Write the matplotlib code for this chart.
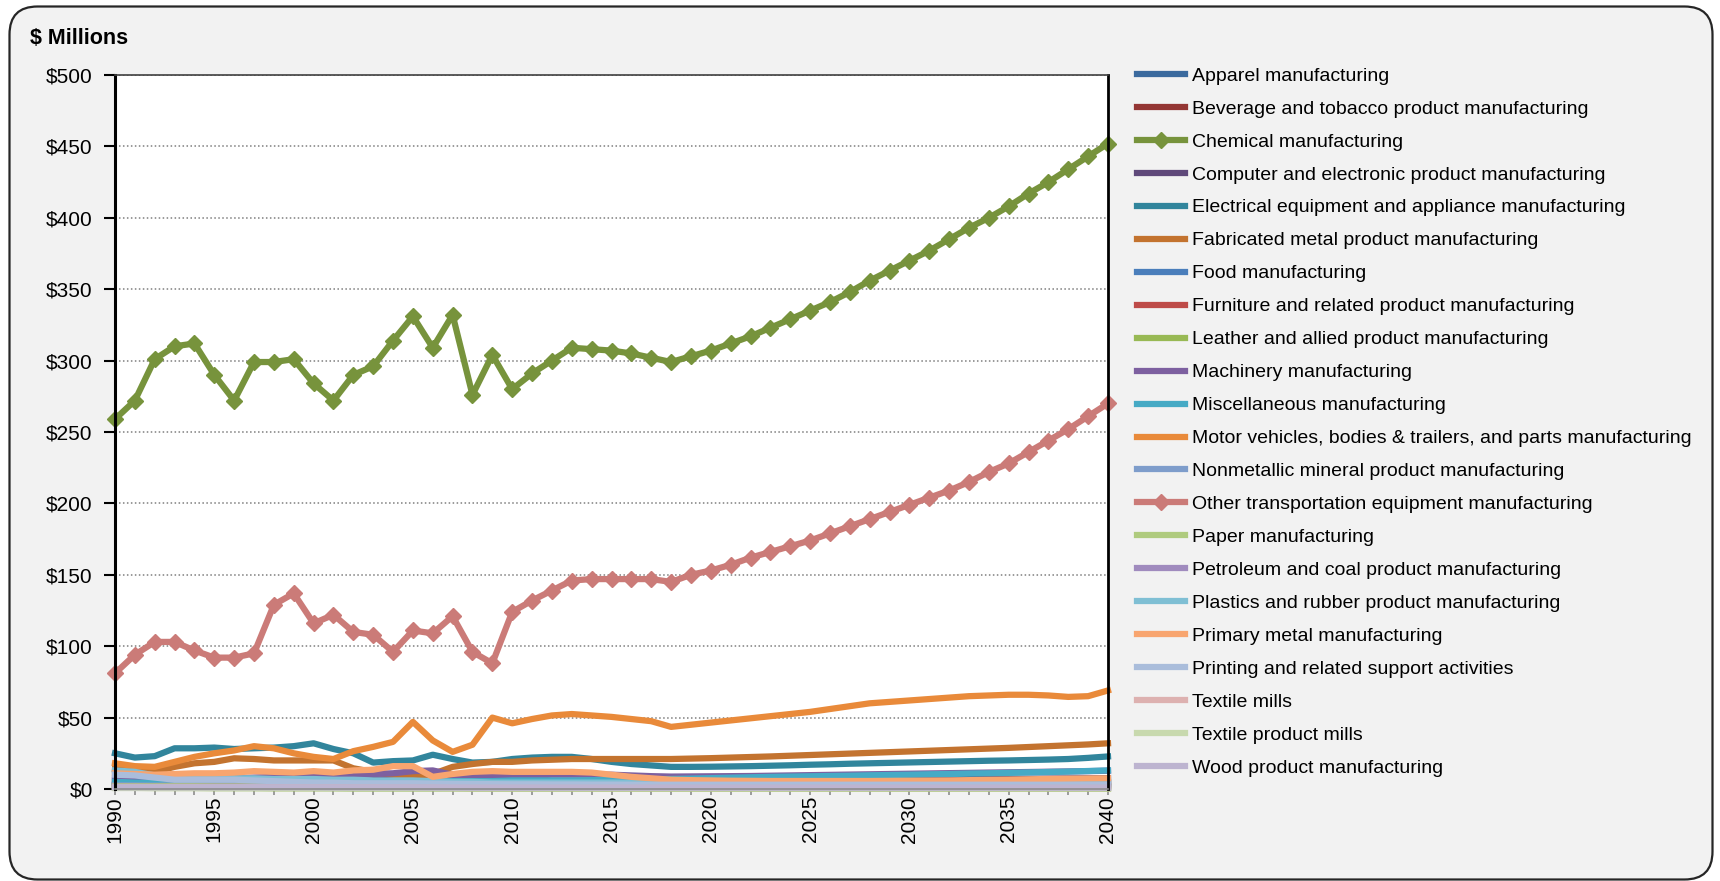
import matplotlib
matplotlib.use('Agg')
import matplotlib.pyplot as plt
from matplotlib import font_manager
from matplotlib.patches import FancyBboxPatch
from matplotlib.transforms import IdentityTransform
from matplotlib.ticker import MultipleLocator, FuncFormatter

# years on the x axis
years = list(range(1990, 2041))

# series values, $ millions, 1990..2040 (rows of ten years)
apparel = [3.0, 2.9, 2.8, 2.7, 2.6, 2.5, 2.4, 2.2, 2.0, 1.9,
           1.8, 1.6, 1.5, 1.4, 1.3, 1.2, 1.2, 1.1, 1.1, 1.0,
           1.0, 1.0, 1.0, 1.0, 1.0, 1.0, 1.0, 1.0, 1.0, 1.0,
           1.0, 1.0, 1.0, 1.0, 1.0, 1.0, 1.0, 1.0, 1.0, 1.0,
           1.0, 1.0, 1.0, 1.0, 1.0, 1.0, 1.0, 1.0, 1.0, 1.0,
           1.0]
beverage = [3.5, 3.4, 3.4, 3.5, 3.6, 3.6, 3.7, 3.7, 3.8, 3.8,
            3.9, 3.8, 3.8, 3.7, 3.7, 3.6, 3.6, 3.5, 3.4, 3.3,
            3.4, 3.4, 3.5, 3.5, 3.5, 3.5, 3.5, 3.5, 3.5, 3.5,
            3.6, 3.6, 3.7, 3.7, 3.8, 3.8, 3.9, 3.9, 4.0, 4.0,
            4.1, 4.1, 4.2, 4.2, 4.3, 4.3, 4.4, 4.4, 4.5, 4.5,
            4.6]
chemical = [259, 272, 301, 310, 312, 290, 272, 299, 299, 301,
            284, 272, 290, 296, 314, 331, 309, 332, 276, 304,
            280, 291, 300, 309, 308, 307, 305, 302, 299, 303,
            307, 312, 317, 323, 329, 335, 341, 348, 356, 363,
            370, 377, 385, 393, 400, 408, 417, 425, 434, 443,
            452]
computer = [6.0, 6.0, 6.0, 6.5, 6.5, 7.0, 7.0, 7.5, 7.5, 8.0,
            8.5, 7.0, 6.5, 6.5, 7.0, 7.0, 7.0, 6.5, 6.0, 5.5,
            5.5, 5.5, 5.5, 5.5, 5.5, 5.5, 5.5, 5.5, 5.5, 5.5,
            5.6, 5.7, 5.8, 5.9, 6.0, 6.1, 6.2, 6.3, 6.4, 6.5,
            6.6, 6.7, 6.8, 6.9, 7.0, 7.1, 7.2, 7.3, 7.4, 7.5,
            7.6]
electrical = [25, 22, 23, 28.5, 28.5, 29, 28, 28.5, 29, 30,
              32, 28, 25, 18.5, 19.5, 20, 24, 21, 18.5, 19,
              21, 22, 22.5, 22.5, 21, 19, 17.5, 16.5, 15.5, 15.5,
              15.6, 15.8, 16, 16.3, 16.6, 17, 17.3, 17.7, 18, 18.3,
              18.6, 18.9, 19.2, 19.5, 19.8, 20, 20.3, 20.6, 21, 21.8,
              22.8]
fabricated = [14, 13, 12, 15.5, 18, 19, 21.5, 21, 20, 20,
              20, 20, 14.5, 12, 10, 8.5, 10.5, 15.5, 17.5, 19,
              19, 20, 20.5, 21, 21, 21, 21, 21, 21, 21.3,
              21.6, 22, 22.4, 22.8, 23.3, 23.8, 24.3, 24.8, 25.3, 25.8,
              26.3, 26.8, 27.3, 27.8, 28.3, 28.8, 29.4, 30, 30.6, 31.2,
              32]
food = [3.0, 3.0, 3.1, 3.1, 3.2, 3.2, 3.3, 3.3, 3.3, 3.4,
        3.4, 3.3, 3.3, 3.2, 3.2, 3.1, 3.1, 3.0, 3.0, 3.0,
        3.0, 3.0, 3.0, 3.0, 3.0, 3.0, 3.0, 3.0, 3.0, 3.0,
        3.0, 3.0, 3.1, 3.1, 3.1, 3.2, 3.2, 3.2, 3.3, 3.3,
        3.3, 3.4, 3.4, 3.4, 3.5, 3.5, 3.5, 3.6, 3.6, 3.6,
        3.7]
furniture = [2.2, 2.2, 2.1, 2.2, 2.3, 2.3, 2.4, 2.4, 2.5, 2.5,
             2.5, 2.3, 2.2, 2.2, 2.2, 2.1, 2.1, 2.0, 1.9, 1.8,
             1.8, 1.8, 1.8, 1.8, 1.8, 1.8, 1.8, 1.8, 1.8, 1.8,
             1.9, 1.9, 1.9, 1.9, 2.0, 2.0, 2.0, 2.0, 2.1, 2.1,
             2.1, 2.1, 2.2, 2.2, 2.2, 2.2, 2.3, 2.3, 2.3, 2.3,
             2.4]
leather = [0.8, 0.8, 0.7, 0.7, 0.7, 0.6, 0.6, 0.6, 0.5, 0.5,
           0.5, 0.5, 0.4, 0.4, 0.4, 0.4, 0.4, 0.4, 0.3, 0.3,
           0.3, 0.3, 0.3, 0.3, 0.3, 0.3, 0.3, 0.3, 0.3, 0.3,
           0.3, 0.3, 0.3, 0.3, 0.3, 0.3, 0.3, 0.3, 0.3, 0.3,
           0.3, 0.3, 0.3, 0.3, 0.3, 0.3, 0.3, 0.3, 0.3, 0.3,
           0.3]
machinery = [8, 7.5, 7, 7, 7.5, 7.5, 7.5, 8, 8.5, 8.5,
             9, 8, 9, 10.5, 11, 12.5, 13, 10, 8.5, 9,
             9.5, 9.5, 10, 10, 10, 10, 9.5, 9, 8.7, 8.8,
             8.9, 9, 9.1, 9.3, 9.5, 9.7, 9.9, 10.1, 10.3, 10.5,
             10.7, 10.9, 11.1, 11.3, 11.5, 11.7, 11.9, 12.1, 12.3, 12.5,
             12.8]
misc = [5, 4.5, 4.5, 4.5, 4.5, 4.5, 4.5, 4.5, 4.5, 5,
        5, 5, 5.5, 5.5, 5.5, 5.5, 5.5, 5.5, 5.5, 5.5,
        6, 6, 6, 6, 6.2, 6.4, 6.6, 6.8, 7, 7.3,
        7.6, 7.9, 8.2, 8.5, 8.7, 8.9, 9.1, 9.3, 9.6, 9.8,
        10, 10.3, 10.5, 10.8, 11, 11.3, 11.6, 11.9, 12.2, 12.6,
        13]
motor = [18, 16, 15.5, 19, 22.5, 25, 27, 30, 28.5, 25,
         22.5, 21, 26.5, 29.5, 33, 47, 34, 26, 31, 50,
         46, 49, 51.5, 52.5, 51.5, 50.5, 49, 47.5, 43.5, 45,
         46.5, 48, 49.5, 51, 52.5, 54, 56, 58, 60, 61,
         62, 63, 64, 65, 65.5, 66, 66, 65.5, 64.5, 65,
         69]
nonmetallic = [2.6, 2.5, 2.4, 2.5, 2.6, 2.7, 2.8, 2.9, 3.0, 3.0,
               3.1, 3.0, 3.0, 3.1, 3.2, 3.3, 3.2, 3.0, 2.6, 2.3,
               2.3, 2.3, 2.4, 2.4, 2.5, 2.5, 2.5, 2.5, 2.5, 2.5,
               2.6, 2.6, 2.6, 2.7, 2.7, 2.7, 2.8, 2.8, 2.8, 2.9,
               2.9, 2.9, 3.0, 3.0, 3.0, 3.1, 3.1, 3.1, 3.2, 3.2,
               3.2]
other_transport = [81, 94, 103, 103, 97, 92, 92, 95, 129, 137,
                   116, 122, 110, 108, 96, 111, 109, 121, 96, 88,
                   124, 132, 139, 146, 147, 147, 147, 147, 145, 150,
                   153, 157, 162, 166, 170, 174, 179, 184, 189, 194,
                   199, 204, 209, 215, 222, 228, 236, 244, 252, 261,
                   270]
paper = [2.0, 2.0, 2.0, 2.1, 2.1, 2.1, 2.0, 2.0, 2.0, 2.0,
         2.0, 1.9, 1.9, 1.8, 1.8, 1.8, 1.7, 1.7, 1.6, 1.6,
         1.6, 1.6, 1.6, 1.6, 1.6, 1.6, 1.6, 1.6, 1.6, 1.6,
         1.6, 1.6, 1.6, 1.6, 1.6, 1.7, 1.7, 1.7, 1.7, 1.7,
         1.7, 1.7, 1.7, 1.8, 1.8, 1.8, 1.8, 1.8, 1.8, 1.8,
         1.8]
petroleum = [1.5, 1.5, 1.5, 1.5, 1.5, 1.6, 1.6, 1.6, 1.6, 1.6,
             1.7, 1.7, 1.7, 1.7, 1.8, 1.8, 1.8, 1.8, 1.8, 1.8,
             1.8, 1.8, 1.8, 1.8, 1.8, 1.8, 1.8, 1.8, 1.8, 1.8,
             1.8, 1.8, 1.8, 1.8, 1.8, 1.8, 1.8, 1.8, 1.8, 1.8,
             1.8, 1.8, 1.8, 1.8, 1.8, 1.8, 1.8, 1.8, 1.8, 1.8,
             1.8]
plastics = [13, 12, 9.5, 8, 7.5, 7.5, 7.5, 7.5, 7, 7,
            7, 6.5, 6.5, 6, 6, 6, 5.5, 5, 5, 4.5,
            4.5, 4.5, 4.5, 4.5, 4.5, 4.5, 4.4, 4.3, 4.2, 4.2,
            4.2, 4.3, 4.3, 4.4, 4.4, 4.5, 4.5, 4.6, 4.7, 4.8,
            4.9, 5, 5.1, 5.2, 5.3, 5.4, 5.5, 5.6, 5.7, 5.8,
            6]
primary_metal = [11, 10.5, 10, 10.5, 11, 11, 11.5, 12.5, 12, 11.5,
                 12.5, 11.5, 13, 13.5, 16, 16, 8.5, 10.5, 12, 12.5,
                 12, 12, 12, 12, 11.5, 10, 8.5, 7.5, 6.5, 6.2,
                 6, 5.8, 5.7, 5.6, 5.6, 5.6, 5.6, 5.6, 5.6, 5.7,
                 5.8, 5.9, 6, 6.2, 6.4, 6.6, 6.8, 7, 7.2, 7.4,
                 7.5]
printing = [10, 9.5, 8, 6.5, 6.5, 6.5, 6.5, 6, 5.5, 5,
            4.5, 4.5, 4, 4, 4, 4, 3.8, 3.6, 3.5, 3.4,
            3.3, 3.3, 3.2, 3.2, 3.1, 3.1, 3.0, 3.0, 3.0, 3.0,
            3.0, 3.0, 3.0, 3.0, 3.0, 3.0, 3.0, 3.0, 3.0, 3.0,
            3.0, 3.0, 3.0, 3.0, 3.0, 3.0, 3.0, 3.0, 3.0, 3.0,
            3.0]
textile_mills = [1.4, 1.4, 1.3, 1.3, 1.3, 1.2, 1.2, 1.2, 1.1, 1.1,
                 1.0, 1.0, 0.9, 0.9, 0.8, 0.8, 0.8, 0.7, 0.7, 0.7,
                 0.7, 0.7, 0.7, 0.7, 0.7, 0.7, 0.7, 0.7, 0.7, 0.7,
                 0.7, 0.7, 0.7, 0.7, 0.7, 0.7, 0.7, 0.7, 0.7, 0.7,
                 0.7, 0.7, 0.7, 0.7, 0.7, 0.7, 0.7, 0.7, 0.7, 0.7,
                 0.7]
textile_product = [0.7, 0.7, 0.7, 0.7, 0.7, 0.7, 0.7, 0.7, 0.7, 0.7,
                   0.7, 0.6, 0.6, 0.6, 0.6, 0.6, 0.6, 0.5, 0.5, 0.5,
                   0.5, 0.5, 0.5, 0.5, 0.5, 0.5, 0.5, 0.5, 0.5, 0.5,
                   0.5, 0.5, 0.5, 0.5, 0.5, 0.5, 0.5, 0.5, 0.5, 0.5,
                   0.5, 0.5, 0.5, 0.5, 0.5, 0.5, 0.5, 0.5, 0.5, 0.5,
                   0.5]
wood = [1.2, 1.2, 1.2, 1.2, 1.2, 1.2, 1.2, 1.2, 1.2, 1.2,
        1.2, 1.1, 1.1, 1.1, 1.1, 1.1, 1.0, 1.0, 0.9, 0.9,
        0.9, 0.9, 0.9, 0.9, 0.9, 0.9, 0.9, 0.9, 0.9, 0.9,
        0.9, 0.9, 0.9, 0.9, 0.9, 0.9, 0.9, 0.9, 0.9, 0.9,
        0.9, 0.9, 0.9, 0.9, 0.9, 0.9, 0.9, 0.9, 0.9, 0.9,
        0.9]

labels = ['Apparel manufacturing',
          'Beverage and tobacco product manufacturing',
          'Chemical manufacturing',
          'Computer and electronic product manufacturing',
          'Electrical equipment and appliance manufacturing',
          'Fabricated metal product manufacturing',
          'Food manufacturing',
          'Furniture and related product manufacturing',
          'Leather and allied product manufacturing',
          'Machinery manufacturing',
          'Miscellaneous manufacturing',
          'Motor vehicles, bodies & trailers, and parts manufacturing',
          'Nonmetallic mineral product manufacturing',
          'Other transportation equipment manufacturing',
          'Paper manufacturing',
          'Petroleum and coal product manufacturing',
          'Plastics and rubber product manufacturing',
          'Primary metal manufacturing',
          'Printing and related support activities',
          'Textile mills',
          'Textile product mills',
          'Wood product manufacturing']
series = [apparel, beverage, chemical, computer, electrical, fabricated, food,
          furniture, leather, machinery, misc, motor, nonmetallic,
          other_transport, paper, petroleum, plastics, primary_metal,
          printing, textile_mills, textile_product, wood]
colors = ['#3B6A9E', '#943634', '#77933C', '#5F497A', '#31859C', '#C3732F',
          '#4A7EBB', '#BE4B48', '#98B954', '#7D60A0', '#46AAC5', '#E98A3A',
          '#7E9DCB', '#CB7B78', '#AFCB7E', '#A08BBE', '#7FBFD4', '#F8A56F',
          '#AABDDB', '#DDB1B0', '#C8D9AE', '#BDB4D0']
with_markers = ['Chemical manufacturing',
                'Other transportation equipment manufacturing']

# narrow font if it is there, else the regular one at a smaller size
installed = {f.name for f in font_manager.fontManager.ttflist}
if 'Liberation Sans Narrow' in installed:
    family, fs_tick, fs_leg, fs_title = 'Liberation Sans Narrow', 17, 17, 18
    hlen, lspace, tpad = 2.0, 0.26, 0.3
else:
    family, fs_tick, fs_leg, fs_title = 'Liberation Sans', 15, 14, 15.5
    hlen, lspace, tpad = 2.45, 0.79, 0.4
plt.rcParams['font.family'] = [family, 'DejaVu Sans']

W, H = 1720, 881
fig = plt.figure(figsize=(W / 100, H / 100), dpi=100, facecolor='white')

# rounded grey panel behind everything
panel = FancyBboxPatch((9.5, 1.5), 1703, 873,
                       boxstyle='round,pad=0,rounding_size=28',
                       transform=IdentityTransform(),
                       facecolor='#F2F2F2', edgecolor='#262626',
                       linewidth=1.6, zorder=-5)
fig.add_artist(panel)

ax = fig.add_axes([115 / W, 1 - 789 / H, (1108 - 115) / W, (789 - 75) / H])
ax.set_facecolor('white')

handles = []
for lab, vals, col in zip(labels, series, colors):
    if lab in with_markers:
        ln, = ax.plot(years, vals, color=col, lw=4.5, marker='D',
                      markersize=8, solid_joinstyle='round', clip_on=False)
    else:
        ln, = ax.plot(years, vals, color=col, lw=4.5,
                      solid_joinstyle='round', clip_on=False)
    handles.append(ln)

ax.set_xlim(1990, 2040)
ax.set_ylim(0, 500)
ax.xaxis.set_major_locator(MultipleLocator(5))
ax.xaxis.set_minor_locator(MultipleLocator(1))
ax.yaxis.set_major_locator(MultipleLocator(50))
ax.yaxis.set_major_formatter(FuncFormatter(lambda v, p: r'\$%d' % v))
ax.grid(axis='y', color='#7F7F7F', linestyle=(0, (1, 1.6)), linewidth=1.1)
ax.set_axisbelow(True)

ax.tick_params(axis='x', which='both', direction='out', length=4,
               width=1.2, color='#8C8C8C', labelrotation=90, pad=1,
               labelsize=fs_tick)
ax.tick_params(axis='y', direction='out', length=8, width=1.5,
               color='black', pad=8, labelsize=fs_tick)

ax.spines['left'].set_color('black')
ax.spines['left'].set_linewidth(2.2)
ax.spines['right'].set_color('black')
ax.spines['right'].set_linewidth(2.0)
ax.spines['bottom'].set_color('#8C8C8C')
ax.spines['bottom'].set_linewidth(1.2)
ax.spines['top'].set_color('#404040')
ax.spines['top'].set_linewidth(1.2)

fig.text(30 / W, 1 - 38 / H, r'\$ Millions', fontsize=fs_title,
         fontweight='bold', ha='left', va='center')

fig.legend(handles, labels, loc='upper left',
           bbox_to_anchor=(1137 / W, 1 - 67 / H), frameon=False,
           fontsize=fs_leg, handlelength=hlen, handletextpad=tpad,
           labelspacing=lspace, borderpad=0, borderaxespad=0, numpoints=1)

fig.savefig('out.png', dpi=100, facecolor='white')
